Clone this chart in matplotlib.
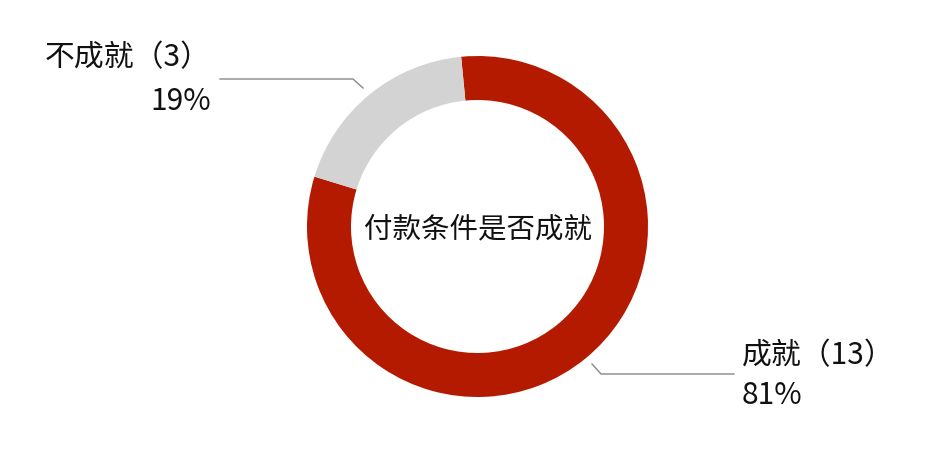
import matplotlib.pyplot as plt

plt.rcParams['font.family'] = ['Noto Sans CJK SC', 'DejaVu Sans']

# data
labels = ['成就', '不成就']
counts = [13, 3]
colors = ['#B41A00', '#D3D3D3']
center_title = '付款条件是否成就'

W, H = 942, 452
fig = plt.figure(figsize=(W / 100, H / 100), dpi=100)
ax = fig.add_axes([0, 0, 1, 1])

cx, cy = 477.5, 227.5
R = 170.5
ring = 44

# y axis is inverted, so clockwise on screen = counterclock in data
wedges, _ = ax.pie(counts, colors=colors, startangle=-95.5, counterclock=True,
                   center=(cx, cy), radius=R, frame=True,
                   wedgeprops=dict(width=ring, linewidth=0))
ax.set_xlim(0, W)
ax.set_ylim(H, 0)
ax.set_aspect('equal')
ax.axis('off')

ax.text(cx, cy + 2, center_title, ha='center', va='center', fontsize=20.5, color='#111111')

total = sum(counts)
pcts = [round(c / total * 100) for c in counts]

# leader lines
ax.plot([220, 353, 363], [80, 80, 89], color='#888888', lw=1)
ax.plot([592, 601, 734], [365, 375, 375], color='#888888', lw=1)

# labels
fs = 21.5
ax.text(211, 58, f'{labels[1]}（{counts[1]}）', ha='right', va='center', fontsize=fs, color='#111111')
ax.text(211, 102, f'{pcts[1]}%', ha='right', va='center', fontsize=fs, color='#111111')
ax.text(742, 356, f'{labels[0]}（{counts[0]}）', ha='left', va='center', fontsize=fs, color='#111111')
ax.text(742, 396, f'{pcts[0]}%', ha='left', va='center', fontsize=fs, color='#111111')

fig.savefig('out.png', dpi=100)
